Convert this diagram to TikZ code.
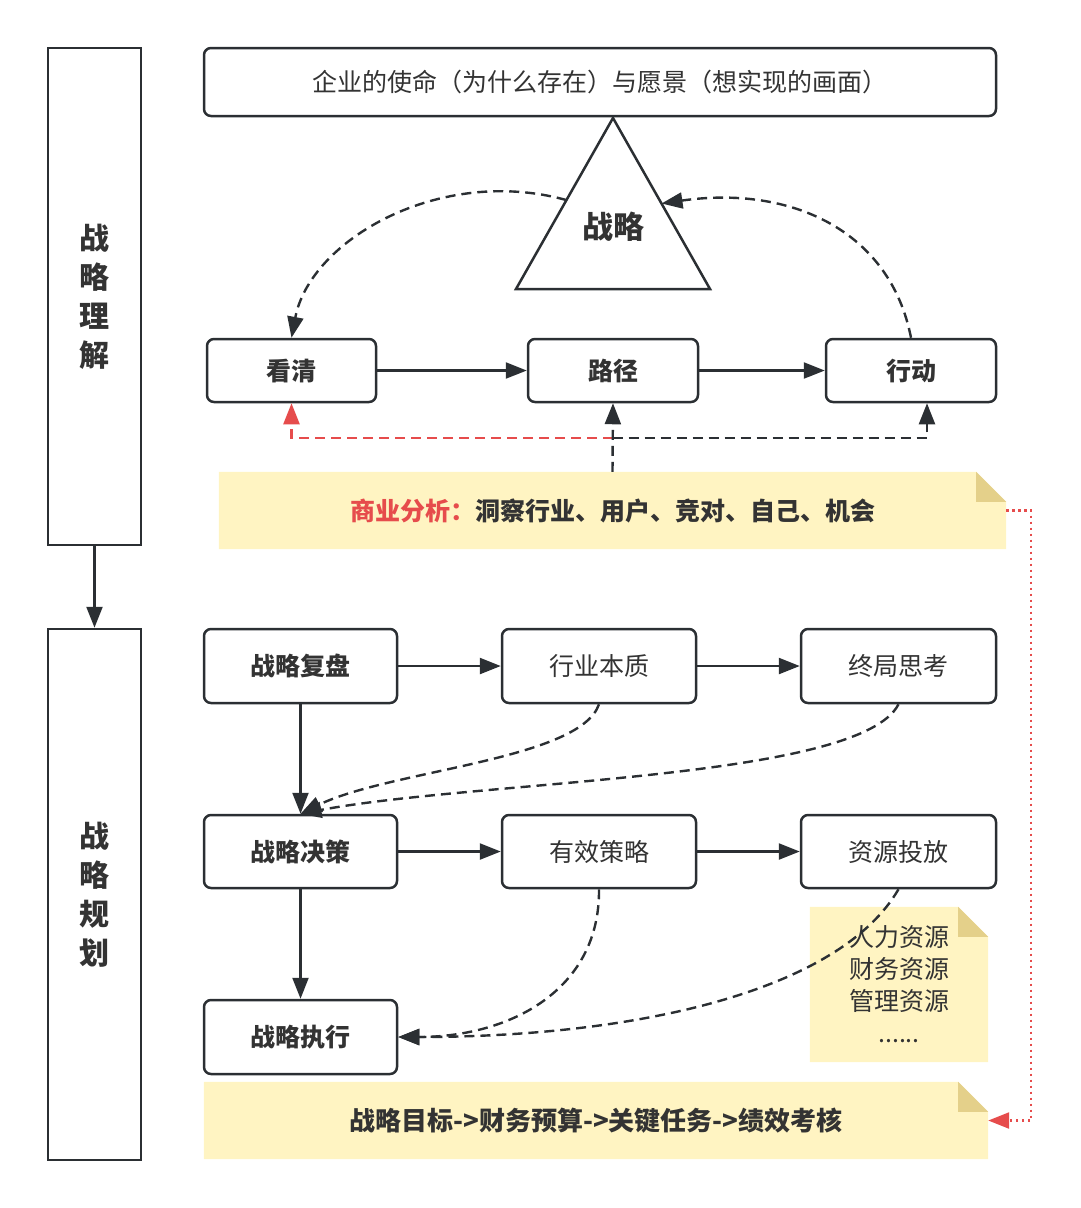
\documentclass[tikz,border=0pt]{standalone}
\usepackage{fontspec}
\setmainfont{Noto Sans CJK SC}
\usetikzlibrary{arrows.meta,calc}
\pgfdeclarelayer{bg}
\pgfsetlayers{bg,main}
\definecolor{ln}{HTML}{2B2F33}
\definecolor{tx}{HTML}{333333}
\definecolor{nfill}{HTML}{FFF4C2}
\definecolor{nfold}{HTML}{E4D08A}
\definecolor{rd}{HTML}{E64C4C}
\newcommand\notebg[1]{%
\begin{pgfonlayer}{bg}
\fill[nfill] (#1.south west) -- (#1.north west) -- ($(#1.north east)+(-30,0)$) -- ($(#1.north east)+(0,30)$) -- (#1.south east) -- cycle;
\fill[nfold] ($(#1.north east)+(-30,0)$) -- ($(#1.north east)+(-30,30)$) -- ($(#1.north east)+(0,30)$) -- cycle;
\end{pgfonlayer}}
\begin{document}
\begin{tikzpicture}[x=1pt,y=-1pt,
 every node/.style={text=tx},
 box/.style={draw=ln, line width=2.5pt, rounded corners=7pt, fill=white, font=\fontsize{25}{30}\selectfont, inner sep=0pt, text depth=2pt},
 boldbox/.style={box, font=\fontsize{25}{30}\selectfont\bfseries},
 bar/.style={draw=ln, line width=2.5pt, fill=white, inner sep=0pt, align=center, font=\fontsize{30}{39}\selectfont\bfseries},
 note/.style={inner sep=0pt, align=center, font=\fontsize{25}{32}\selectfont},
 tip/.style={-{Triangle[length=21pt,width=16pt]}},
 arr/.style={draw=ln, line width=2.4pt, tip},
 darr/.style={arr, dash pattern=on 10pt off 6pt},
 rarr/.style={draw=rd, line width=2.4pt, dash pattern=on 10pt off 6pt, tip},
 rdot/.style={draw=rd, line width=2.4pt, dash pattern=on 2.5pt off 3.5pt, tip},
]
\useasboundingbox (0,0) rectangle (1080,1208);

% left bars
\node[bar, minimum width=93pt, minimum height=497pt] (b1) at (94.5,296.5) {战\\略\\理\\解};
\node[bar, minimum width=93pt, minimum height=531pt] (b2) at (94.5,894.5) {战\\略\\规\\划};
\draw[arr] (b1.south) -- (b2.north);

% top
\node[box, minimum width=792pt, minimum height=68pt] (top) at (600,82) {企业的使命（为什么存在）与愿景（想实现的画面）};

% triangle
\coordinate (tA) at (613,118);
\coordinate (tL) at (516,289);
\coordinate (tR) at (710,289);
\draw[ln, line width=2.5pt, fill=white] (tA) -- (tL) -- (tR) -- cycle;
\node[font=\fontsize{31}{36}\selectfont\bfseries] (zl) at (613,227) {战略};

% row 1
\node[boldbox, minimum width=169pt, minimum height=63pt] (kq) at (291.5,370.5) {看清};
\node[boldbox, minimum width=170pt, minimum height=63pt] (lj) at (613,370.5) {路径};
\node[boldbox, minimum width=170pt, minimum height=63pt] (xd) at (911,370.5) {行动};
\draw[arr] (kq) -- (lj);
\draw[arr] (lj) -- (xd);
\draw[darr] ($(tA)!0.48!(tL)$) .. controls (440,165) and (310,240) .. (kq.north);
\draw[darr] (xd.north) .. controls (890,230) and (790,185) .. ($(tA)!0.5!(tR)$);

% note 1
\node[note, minimum width=787pt, minimum height=77pt, font=\fontsize{25}{32}\selectfont\bfseries] (n1) at (612.5,510.5) {\textcolor{rd}{商业分析：}洞察行业、用户、竞对、自己、机会};
\notebg{n1}
\coordinate (jn) at ($(n1.north)+(0,-34)$);
\draw[rarr] (jn) -| (kq.south);
\draw[darr] (n1.north) -- (lj.south);
\draw[darr] (jn) -| ($(xd.south)+(16,0)$);

% row 2
\node[boldbox, minimum width=193pt, minimum height=74pt] (fp) at (300.5,666) {战略复盘};
\node[box, minimum width=194pt, minimum height=74pt] (hy) at (599,666) {行业本质};
\node[box, minimum width=195pt, minimum height=74pt] (zj2) at (898.5,666) {终局思考};
\draw[arr] (fp) -- (hy);
\draw[arr] (hy) -- (zj2);

% row 3
\node[boldbox, minimum width=193pt, minimum height=73pt] (zj) at (300.5,851.5) {战略决策};
\node[box, minimum width=194pt, minimum height=73pt] (yx) at (599,851.5) {有效策略};
\node[box, minimum width=195pt, minimum height=73pt] (zy) at (898.5,851.5) {资源投放};
\draw[arr] (zj) -- (yx);
\draw[arr] (yx) -- (zy);
\draw[arr] (fp) -- (zj);
\draw[darr] (hy.south) .. controls (580,760) and (390,770) .. (zj.north);
\draw[darr] (zj2.south) .. controls (860,780) and (480,780) .. (zj.north);

% row 4
\node[boldbox, minimum width=193pt, minimum height=74pt] (zx) at (300.5,1037) {战略执行};
\draw[arr] (zj) -- (zx);

% note 2
\node[note, minimum width=178pt, minimum height=155pt] (n2) at (899,984.5) {人力资源\\财务资源\\管理资源\\......};
\notebg{n2}
\draw[darr] (yx.south) .. controls (600,990) and (510,1037) .. (zx.east);
\draw[darr] (zy.south) .. controls (840,990) and (640,1037) .. (zx.east);

% note 3
\node[note, minimum width=784pt, minimum height=77pt, font=\fontsize{26}{32}\selectfont\bfseries] (n3) at (596,1120.5) {战略目标->财务预算->关键任务->绩效考核};
\notebg{n3}

\draw[rdot] (n1.east) -- ++(25,0) |- (n3.east);
\end{tikzpicture}
\end{document}
